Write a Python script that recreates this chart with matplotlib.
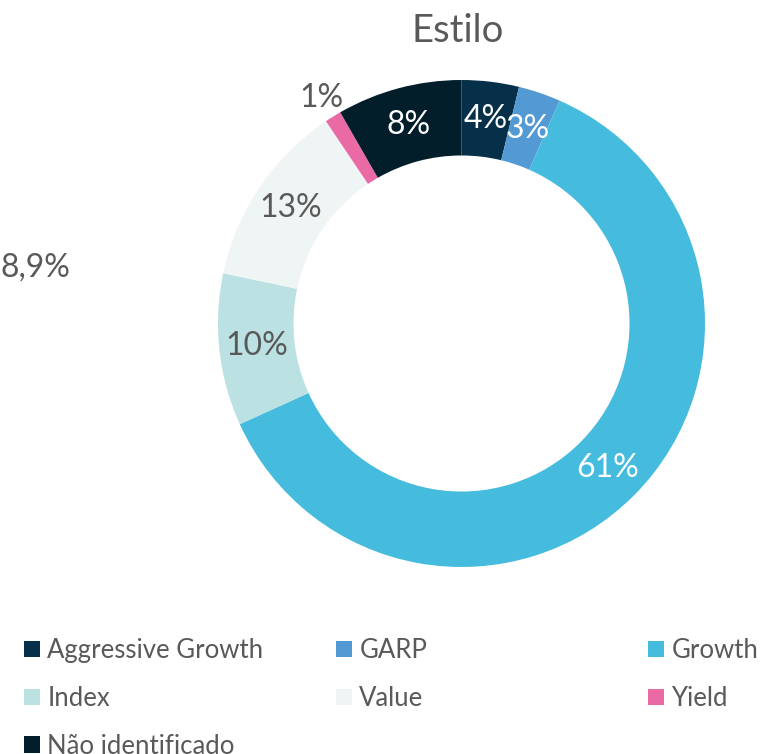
import matplotlib.pyplot as plt
import numpy as np

# -------- dados --------------------
categorias = ['Aggressive Growth', 'GARP', 'Growth', 'Index', 'Value', 'Yield', 'Não identificado']
valores = [3.8, 2.8, 61.65, 10.1, 12.3, 1.1, 8.3]
rotulos = ['4%', '3%', '61%', '10%', '13%', '1%', '8%']
cores = ['#06304A', '#5399D3', '#45BCDD', '#BBE1E2', '#EFF4F4', '#E96AA5', '#031E2B']
cor_rotulo = ['white', 'white', 'white', '#595959', '#595959', '#595959', 'white']
rotulo_solto = '8,9%'

plt.rcParams['font.family'] = ['Lato', 'DejaVu Sans']
cinza = '#595959'

fig = plt.figure(figsize=(7.62, 7.54), dpi=100)
W, H = 762, 754
cx, cy, R = 461.5, 323.5, 243.5
ax = fig.add_axes([(cx - R) / W, (H - cy - R) / H, 2 * R / W, 2 * R / H])

fatias, _ = ax.pie(valores, colors=cores, startangle=90, counterclock=False,
                   radius=1, wedgeprops=dict(width=0.31, linewidth=0))
ax.set_xlim(-1, 1)
ax.set_ylim(-1, 1)
ax.set_aspect('equal')
ax.axis('off')

# -------- rótulos de percentagem --------------------
for f, txt, c in zip(fatias, rotulos, cor_rotulo):
    ang = np.deg2rad((f.theta1 + f.theta2) / 2)
    d = 1.09 if txt == '1%' else 0.845
    ax.text(d * np.cos(ang), d * np.sin(ang), txt, color=c, fontsize=23,
            ha='center', va='center')

fig.text(458 / W, 1 - 31 / H, 'Estilo', ha='center', va='center',
         fontsize=27.5, color=cinza)
fig.text(35 / W, 1 - 268 / H, rotulo_solto, ha='center', va='center',
         fontsize=23, color=cinza)

# -------- legenda em 3 colunas --------------------
colunas = [[0, 3, 6], [1, 4], [2, 5]]
xs = [25, 337, 649]
for idx, x0 in zip(colunas, xs):
    leg = fig.legend([fatias[i] for i in idx], [categorias[i] for i in idx],
                     loc='upper left', bbox_to_anchor=(x0 / W - 0.0145, 1 - 628 / H),
                     frameon=False, fontsize=18.5, handlelength=0.6, handleheight=0.6,
                     handletextpad=0.3, labelspacing=0.88, borderaxespad=0)
    for t in leg.get_texts():
        t.set_color(cinza)

fig.savefig('out.png', dpi=100)
